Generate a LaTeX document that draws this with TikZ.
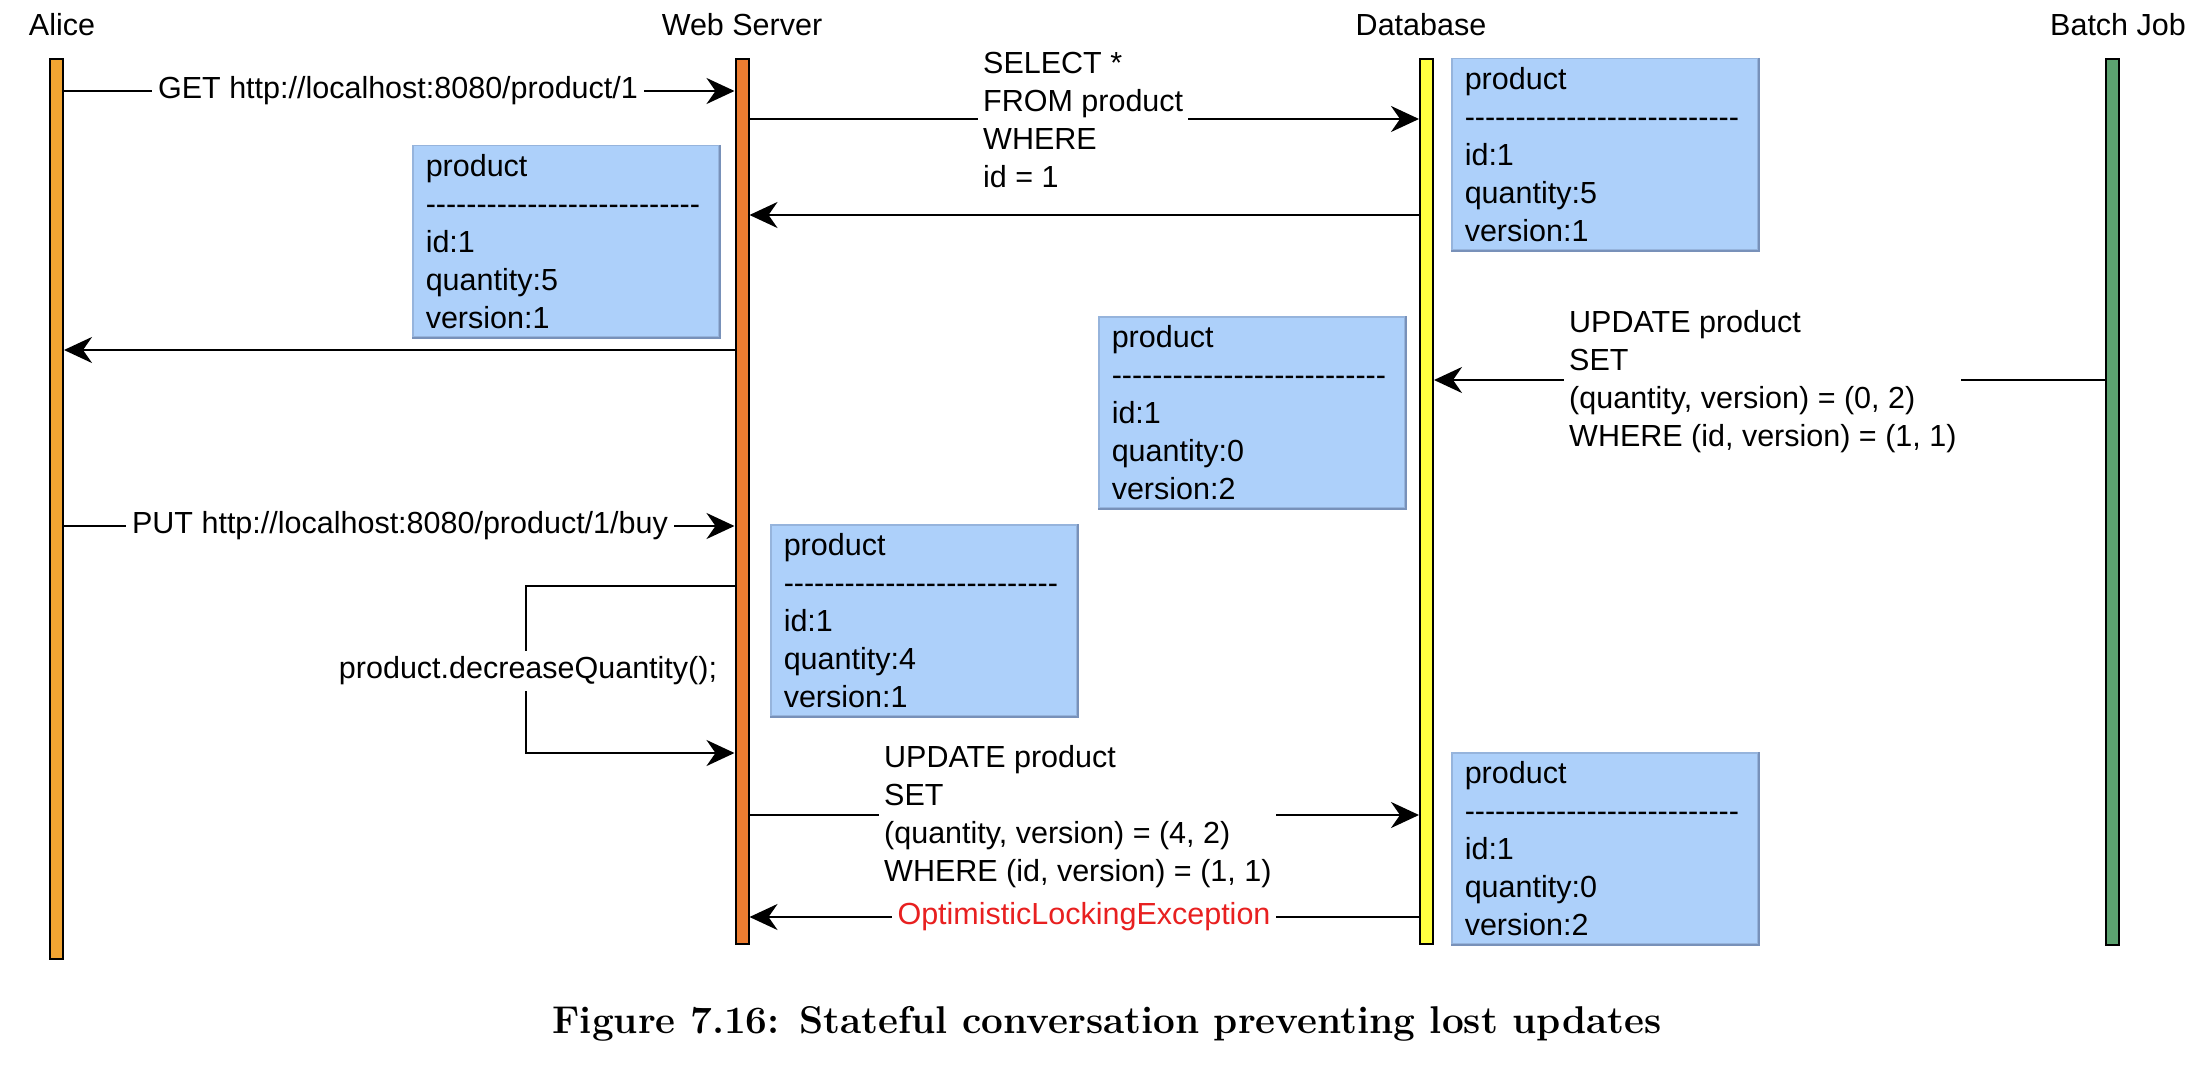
\documentclass[tikz,border=0pt]{standalone}
\usepackage{fontspec}
\newfontfamily\arialf{Liberation Sans}
\usetikzlibrary{arrows.meta}
\definecolor{alicec}{RGB}{242,165,50}
\definecolor{wsc}{RGB}{237,125,49}
\definecolor{dbc}{RGB}{255,255,64}
\definecolor{batchc}{RGB}{92,162,112}
\definecolor{boxfill}{RGB}{173,208,250}
\definecolor{boxline}{RGB}{150,180,220}
\definecolor{boxshade}{RGB}{120,145,185}
\definecolor{errc}{RGB}{232,32,32}
\newcommand{\dd}{\mbox{-}}
\newcommand{\dashrule}{\dd\dd\dd\dd\dd\dd\dd\dd\dd\dd\dd\dd\dd\dd\dd\dd\dd\dd\dd\dd\dd\dd\dd\dd\dd\dd\dd}
\tikzset{
  diag/.style={font=\arialf\fontsize{30.5}{38}\selectfont},
  lifebar/.style={draw=black, line width=2pt, minimum width=13pt, inner sep=0pt, anchor=north},
  msg/.style={line width=2.5pt, -{Stealth[length=28pt,width=26pt,inset=9pt]}},
  lbl/.style={diag, fill=white, inner xsep=6pt, inner ysep=1pt},
  sql/.style={diag, fill=white, inner xsep=5pt, inner ysep=1pt, align=left, anchor=west},
  objbox/.style={diag, draw=boxline, fill=boxfill, line width=1.5pt, anchor=north west,
    minimum width=306pt, minimum height=191pt, text width=280pt, inner xsep=13pt, inner ysep=6pt, align=left},
  shade/.style={draw=boxshade, line width=2pt},
  head/.style={diag}
}
\begin{document}
\begin{tikzpicture}[x=1pt,y=-1pt]
\useasboundingbox (0,0) rectangle (2202,1078);

% heads
\node[head] (hA) at (62,25) {Alice};
\node[head] (hW) at (742,25) {Web Server};
\node[head] (hD) at (1421,25) {Database};
\node[head] (hB) at (2118,25) {Batch Job};

% lifelines
\node[lifebar, fill=alicec, minimum height=900pt] (alice) at (56.5,58) {};
\node[lifebar, fill=wsc, minimum height=885pt] (ws) at (742,58) {};
\node[lifebar, fill=dbc, minimum height=885pt] (db) at (1426.5,58) {};
\node[lifebar, fill=batchc, minimum height=886pt] (batch) at (2112.5,58) {};

% object boxes
\node[objbox] (b1) at (412,145) {product\\\dashrule\\id:1\\quantity:5\\version:1};
\node[objbox] (b2) at (1451,58) {product\\\dashrule\\id:1\\quantity:5\\version:1};
\node[objbox] (b3) at (1098,316) {product\\\dashrule\\id:1\\quantity:0\\version:2};
\node[objbox] (b4) at (770,524) {product\\\dashrule\\id:1\\quantity:4\\version:1};
\node[objbox] (b5) at (1451,752) {product\\\dashrule\\id:1\\quantity:0\\version:2};
\foreach \b in {b1,b2,b3,b4,b5}{
  \draw[shade] (\b.north east) -- (\b.south east) -- (\b.south west);
}

% 1 GET
\draw[msg] (alice.east |- 0,91) -- (ws.west |- 0,91);
\node[lbl] (l1) at (398,91) {GET http://localhost:8080/product/1};

% 2 SELECT
\draw[msg] (ws.east |- 0,119) -- (db.west |- 0,119);
\node[sql] (l2) at (978,120) {SELECT *\\FROM product\\WHERE\\id = 1};

% 3 result to web server
\draw[msg] (db.west |- 0,215) -- (ws.east |- 0,215);

% 4 result to Alice
\draw[msg] (ws.west |- 0,350) -- (alice.east |- 0,350);

% 5 batch update
\draw[msg] (batch.west |- 0,380) -- (db.east |- 0,380);
\node[sql] (l5) at (1564,382) {UPDATE product\\SET\\(quantity, version) = (0, 2)\\WHERE (id, version) = (1, 1)};

% 6 PUT
\draw[msg] (alice.east |- 0,526) -- (ws.west |- 0,526);
\node[lbl] (l6) at (400,526) {PUT http://localhost:8080/product/1/buy};

% 7 self call
\coordinate (s1) at (526,586);
\coordinate (s2) at (526,753);
\draw[msg] (ws.west |- s1) -- (s1) -- (s2) -- (ws.west |- s2);
\node[lbl, inner ysep=6pt] (l7) at (528,671) {product.decreaseQuantity();};

% 8 UPDATE
\draw[msg] (ws.east |- 0,815) -- (db.west |- 0,815);
\node[sql] (l8) at (879,817) {UPDATE product\\SET\\(quantity, version) = (4, 2)\\WHERE (id, version) = (1, 1)};

% 9 exception
\draw[msg] (db.west |- 0,917) -- (ws.east |- 0,917);
\node[lbl, text=errc] (l9) at (1084,917) {OptimisticLockingException};

% caption
\node[font=\fontsize{38.7}{46}\selectfont\bfseries] (cap) at (1107,1024) {Figure 7.16: Stateful conversation preventing lost updates};
\end{tikzpicture}
\end{document}
